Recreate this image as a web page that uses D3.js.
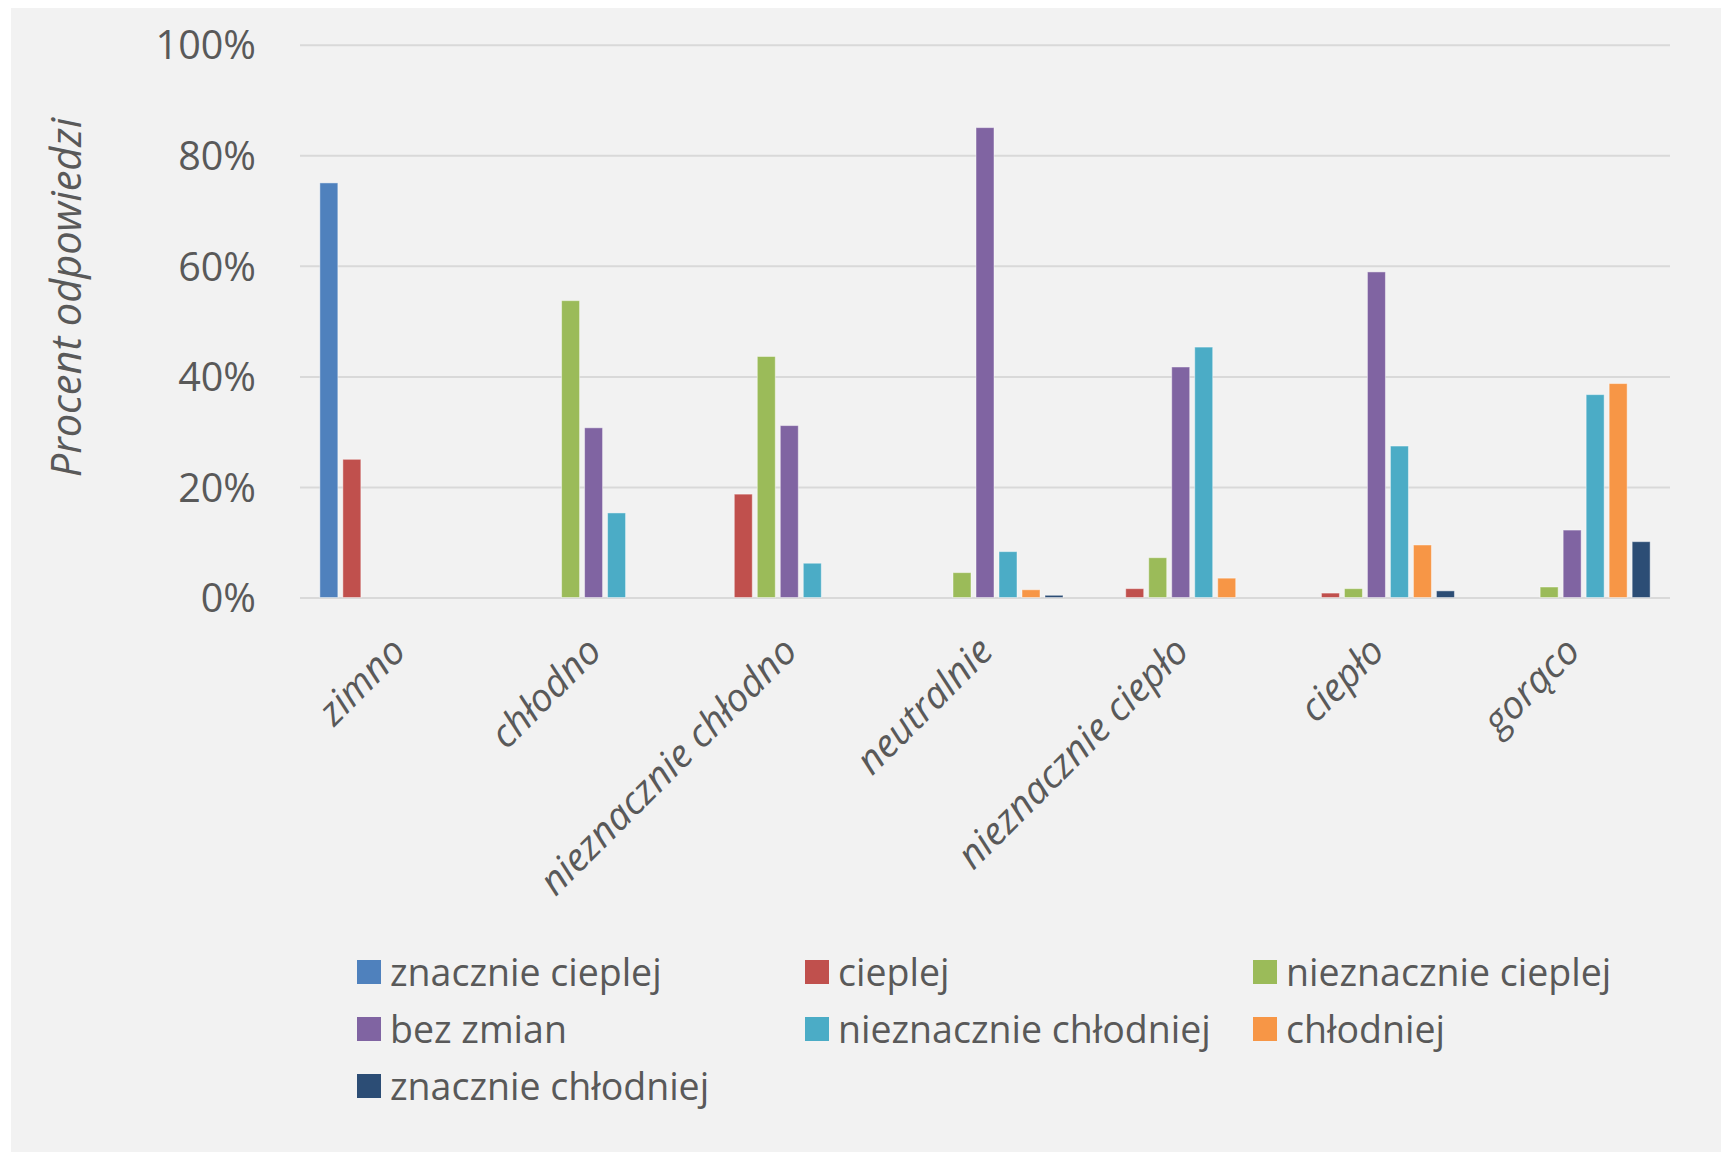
<!DOCTYPE html>
<html lang="pl">
<head>
<meta charset="utf-8">
<script src="https://cdn.jsdelivr.net/npm/d3@7"></script>
<style>
  html, body { margin: 0; padding: 0; background: #ffffff; }
  svg { display: block; }
  text { font-family: "Open Sans", "DejaVu Sans", sans-serif; fill: #595959; }
</style>
</head>
<body>
<svg id="chart" width="1721" height="1152"></svg>
<script>
// Thermal sensation categories (x axis)
const categories = ["zimno", "chłodno", "nieznacznie chłodno", "neutralnie", "nieznacznie ciepło", "ciepło", "gorąco"];

// Preferred change answers (series)
const series = ["znacznie cieplej", "cieplej", "nieznacznie cieplej", "bez zmian", "nieznacznie chłodniej", "chłodniej", "znacznie chłodniej"];
const seriesColors = ["#4f81bd", "#c0504d", "#9bbb59", "#8064a2", "#4bacc6", "#f79646", "#2c4d75"];

// Share of answers (%) per series, one value per category
const znacznieCieplej     = [75,  0,    0,    0,    0,    0,    0];
const cieplej             = [25,  0,    18.7, 0,    1.6,  0.8,  0];
const nieznacznieCieplej  = [0,   53.7, 43.6, 4.5,  7.2,  1.6,  1.9];
const bezZmian            = [0,   30.7, 31.1, 85.0, 41.7, 58.9, 12.2];
const nieznacznieChlodniej= [0,   15.3, 6.2,  8.3,  45.3, 27.4, 36.7];
const chlodniej           = [0,   0,    0,    1.4,  3.5,  9.5,  38.7];
const znacznieChlodniej   = [0,   0,    0,    0.4,  0,    1.2,  10.1];

const yTicks = [0, 20, 40, 60, 80, 100];
const yTitle = "Procent odpowiedzi";

const seriesValues = [znacznieCieplej, cieplej, nieznacznieCieplej, bezZmian, nieznacznieChlodniej, chlodniej, znacznieChlodniej];

const svg = d3.select("#chart");

// chart background panel
svg.append("rect")
  .attr("x", 11).attr("y", 8)
  .attr("width", 1721 - 11).attr("height", 1152 - 8)
  .attr("fill", "#f2f2f2");

const plot = { left: 300, right: 1670, top: 44.7, bottom: 597.5 };

const x0 = d3.scaleBand().domain(categories).range([plot.left, plot.right]).padding(0);
const x1 = d3.scaleBand().domain(series).range([0, x0.bandwidth()])
  .paddingInner(5 / 23).paddingOuter(0.863);
const y = d3.scaleLinear().domain([0, 100]).range([plot.bottom, plot.top]);
const color = d3.scaleOrdinal().domain(series).range(seriesColors);

// gridlines + y tick labels
const yAxis = d3.axisLeft(y)
  .tickValues(yTicks)
  .tickFormat(d => d + "%")
  .tickSize(-(plot.right - plot.left))
  .tickPadding(44);

const gy = svg.append("g")
  .attr("transform", `translate(${plot.left},0)`)
  .call(yAxis);
gy.select(".domain").remove();
gy.selectAll(".tick line").attr("stroke", "#d9d9d9").attr("stroke-width", 2);
gy.selectAll(".tick text")
  .attr("font-size", 39.5)
  .attr("dy", "0.36em")
  .style("fill", "#595959");

// y axis title
svg.append("text")
  .attr("transform", "translate(81,297.5) rotate(-90)")
  .attr("text-anchor", "middle")
  .attr("font-size", 41.5)
  .attr("font-style", "italic")
  .text(yTitle);

// bars
const rows = categories.map((c, i) => ({
  category: c,
  values: series.map((s, j) => ({ series: s, value: seriesValues[j][i] }))
}));

const groups = svg.append("g").selectAll("g")
  .data(rows)
  .join("g")
  .attr("transform", d => `translate(${x0(d.category)},0)`);

groups.selectAll("rect")
  .data(d => d.values.filter(v => v.value > 0))
  .join("rect")
  .attr("x", d => x1(d.series))
  .attr("width", x1.bandwidth())
  .attr("y", d => y(d.value))
  .attr("height", d => y(0) - y(d.value))
  .attr("fill", d => color(d.series))
  .attr("stroke", "rgba(255,255,255,0.45)")
  .attr("stroke-width", 1);

// category labels
const xAxis = d3.axisBottom(x0).tickSize(0).tickPadding(0);
const gx = svg.append("g")
  .attr("transform", `translate(0,${plot.bottom})`)
  .call(xAxis);
gx.select(".domain").remove();
gx.selectAll(".tick text")
  .attr("font-size", 38.5)
  .attr("font-style", "italic")
  .attr("text-anchor", "end")
  .attr("x", 0).attr("y", 0).attr("dy", 0)
  .attr("transform", "translate(10,56) rotate(-45)")
  .style("fill", "#595959");

// legend
const legend = svg.append("g");
const legendItems = legend.selectAll("g")
  .data(series)
  .join("g")
  .attr("transform", (d, i) => `translate(${357 + (i % 3) * 448},${960 + Math.floor(i / 3) * 57})`);

legendItems.append("rect")
  .attr("width", 24).attr("height", 24)
  .attr("fill", d => color(d));

legendItems.append("text")
  .attr("x", 33).attr("y", 25.5)
  .attr("font-size", 37.5)
  .text(d => d);
</script>
</body>
</html>
